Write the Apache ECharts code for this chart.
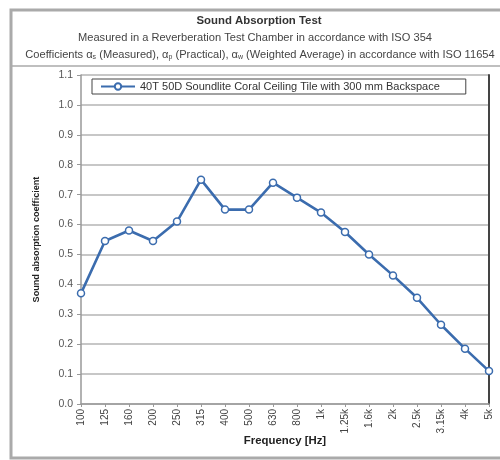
<!DOCTYPE html>
<html>
<head>
<meta charset="utf-8">
<script src="https://cdn.jsdelivr.net/npm/echarts@6/dist/echarts.min.js"></script>
<style>html,body{margin:0;padding:0;background:#fff}#c{width:500px;height:460px}</style>
</head>
<body>
<div id="c"></div>
<script>
var categories = ['100','125','160','200','250','315','400','500','630','800','1k','1.25k','1.6k','2k','2.5k','3.15k','4k','5k'];
var seriesName = '40T 50D Soundlite Coral Ceiling Tile with 300 mm Backspace';
var absorption = [0.37,0.545,0.58,0.545,0.61,0.75,0.65,0.65,0.74,0.69,0.64,0.575,0.50,0.43,0.355,0.265,0.185,0.11];
var yTicksMin = 0, yTicksMax = 1.1, yStep = 0.1;

var FONT = '"Liberation Sans", Arial, sans-serif';
var chart = echarts.init(document.getElementById('c'), null, {renderer:'canvas'});
var subRich = {
  a:{fontSize:11.1, fontFamily:FONT, color:'#444'},
  s:{fontSize:7, fontFamily:FONT, color:'#444', verticalAlign:'bottom', padding:[5,0,0,0]}
};
chart.setOption({
  backgroundColor:'#fff',
  animation:false,
  textStyle:{fontFamily:FONT},
  title:[
    {text:'Sound Absorption Test', left:254, top:10, textAlign:'center',
     textStyle:{fontSize:11.4, fontWeight:'bold', color:'#333', fontFamily:FONT}},
    {text:'Measured in a Reverberation Test Chamber in accordance with ISO 354', left:250, top:27, textAlign:'center',
     textStyle:{fontSize:11.1, fontWeight:'normal', color:'#444', fontFamily:FONT}},
    {text:'Coefficients {a|α}{s|s} (Measured), {a|α}{s|p} (Practical), {a|α}{s|w} (Weighted Average) in accordance with ISO 11654',
     left:255, top:44, textAlign:'center',
     textStyle:{fontSize:11.1, fontWeight:'normal', color:'#444', fontFamily:FONT, rich:subRich}}
  ],
  graphic:[
    {type:'rect', shape:{x:11, y:10, width:520, height:448}, style:{fill:null, stroke:'#aaa', lineWidth:3}, z:-1},
    {type:'line', shape:{x1:11, y1:66, x2:500, y2:66}, style:{stroke:'#aaa', lineWidth:1.5}, z:-1}
  ],
  legend:{
    left:92, top:79, orient:'horizontal',
    borderColor:'#444', borderWidth:1, borderRadius:0,
    padding:[2,26,2,8],
    itemWidth:34, itemHeight:8,
    textStyle:{fontSize:11, color:'#333', fontFamily:FONT},
    data:[seriesName]
  },
  grid:{left:81, right:11, top:75, bottom:56, containLabel:false},
  xAxis:{
    type:'category', data:categories, boundaryGap:false,
    name:'Frequency [Hz]', nameLocation:'middle', nameGap:31, nameMoveOverlap:false,
    nameTextStyle:{fontSize:11.4, fontWeight:'bold', color:'#222', fontFamily:FONT},
    axisLine:{show:true, lineStyle:{color:'#999', width:1.5}},
    axisTick:{show:true, length:3, lineStyle:{color:'#999'}},
    axisLabel:{rotate:90, fontSize:10, color:'#444', margin:5, fontFamily:FONT},
    splitLine:{show:false}
  },
  yAxis:[{
    type:'value', min:yTicksMin, max:yTicksMax, interval:yStep,
    name:'Sound absorption coefficient', nameLocation:'middle', nameGap:40, nameRotate:90, nameMoveOverlap:false,
    nameTextStyle:{fontSize:9.1, fontWeight:'bold', color:'#222', fontFamily:FONT},
    axisLine:{show:true, lineStyle:{color:'#999', width:1.5}},
    axisTick:{show:true, length:4, lineStyle:{color:'#999'}},
    axisLabel:{fontSize:10.5, color:'#555', margin:8, fontFamily:FONT, formatter:function(v){return v.toFixed(1);}},
    splitLine:{show:true, lineStyle:{color:'#b4b4b4', width:1.5}}
  },{
    type:'value', min:yTicksMin, max:yTicksMax, interval:yStep, position:'right',
    axisLine:{show:true, lineStyle:{color:'#444', width:2}},
    axisTick:{show:false}, axisLabel:{show:false}, splitLine:{show:false}
  }],
  series:[{
    name:seriesName, type:'line', data:absorption,
    symbol:'circle', symbolSize:7, showAllSymbol:true,
    lineStyle:{color:'#3b6cae', width:2.6},
    itemStyle:{color:'#fff', borderColor:'#3b6cae', borderWidth:1.5},
    z:5
  }]
});
</script>
</body>
</html>
